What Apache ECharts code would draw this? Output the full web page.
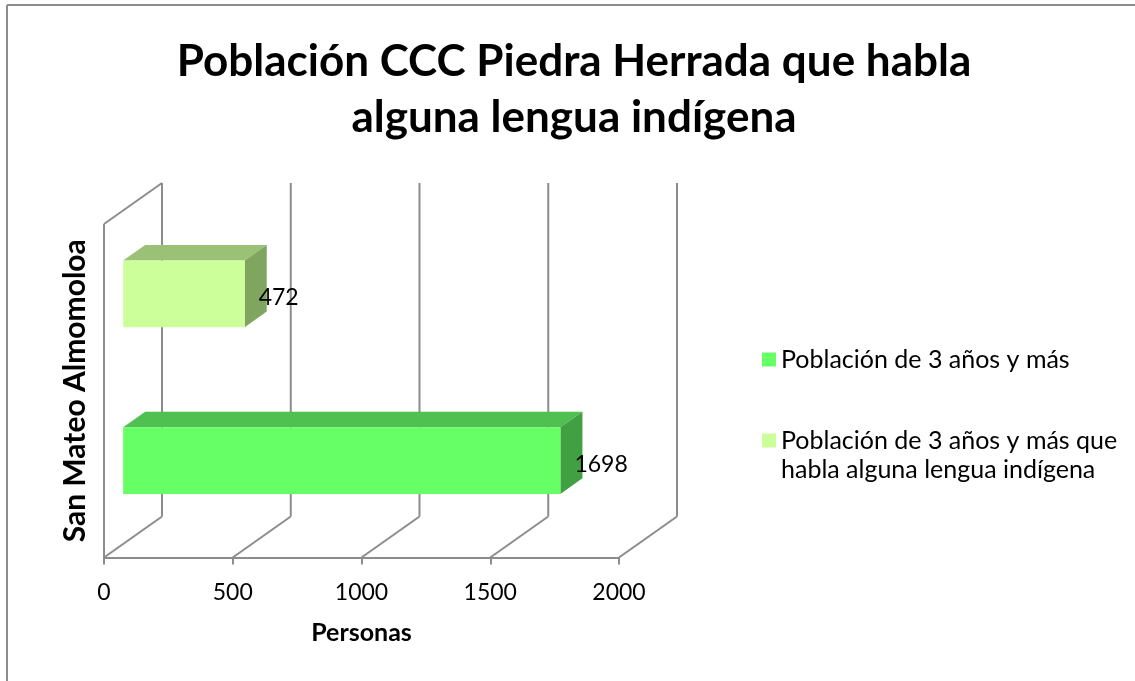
<!DOCTYPE html>
<html>
<head>
<meta charset="utf-8">
<script src="https://cdn.jsdelivr.net/npm/echarts@6/dist/echarts.min.js"></script>
<style>
html,body{margin:0;padding:0;background:#fff;}
#chart{width:1135px;height:681px;}
</style>
</head>
<body>
<div id="chart"></div>
<script>
// ---- data ----
var titleText = 'Población CCC Piedra Herrada que habla\nalguna lengua indígena';
var categories = ['San Mateo Almomoloa'];
var seriesNames = ['Población de 3 años y más', 'Población de 3 años y más que habla alguna lengua indígena'];
var valuesPop3 = [1698];
var valuesIndigena = [472];
var xTicks = [0, 500, 1000, 1500, 2000];
var xAxisName = 'Personas';

// ---- styling / geometry ----
var FONT = 'Lato';
var DX = 58, DY = -41;          // full depth offset of the 3D box
var F1 = 0.33, F2 = 0.71;       // bar front / back depth fraction
var GRID_COLOR = '#8c8c8c';
var palettes = [
  {front: '#66ff66', top: '#50c050', side: '#41a041'},
  {front: '#ccff99', top: '#9bc176', side: '#80a55e'}
];
var slots = [0.25, -0.25];      // offset of each series inside the band
var BAR_FRAC = 0.2;

function barRender(sIdx) {
  return function (params, api) {
    var val = api.value(0), cat = api.value(1);
    var p0 = api.coord([0, cat]);
    var p1 = api.coord([val, cat]);
    var band = api.size([0, 1])[1];
    var cy = p0[1] + slots[sIdx] * band;
    var h = band * BAR_FRAC;
    var top = cy - h / 2, bot = cy + h / 2;
    var xl = p0[0], xr = p1[0];
    var f1x = DX * F1, f1y = DY * F1, f2x = DX * F2, f2y = DY * F2;
    var pal = palettes[sIdx];
    return {
      type: 'group',
      children: [
        {type: 'polygon', shape: {points: [[xl + f1x, top + f1y], [xr + f1x, top + f1y], [xr + f2x, top + f2y], [xl + f2x, top + f2y]]}, style: {fill: pal.top}},
        {type: 'polygon', shape: {points: [[xr + f1x, top + f1y], [xr + f2x, top + f2y], [xr + f2x, bot + f2y], [xr + f1x, bot + f1y]]}, style: {fill: pal.side}},
        {type: 'rect', shape: {x: xl + f1x, y: top + f1y, width: xr - xl, height: h}, style: {fill: pal.front}},
        {type: 'text', x: xr + f1x + 14, y: cy + f1y + 4, style: {text: String(val), fill: '#000', font: '23px ' + FONT, verticalAlign: 'middle', align: 'left'}}
      ]
    };
  };
}

function wallRender(params, api) {
  var cs = params.coordSys;
  var v = api.value(0);
  var x = api.coord([v, 0])[0];
  var topY = cs.y, botY = cs.y + cs.height;
  var ls = {stroke: GRID_COLOR, lineWidth: 2};
  var ch = [
    {type: 'line', shape: {x1: x + DX, y1: topY + DY, x2: x + DX, y2: botY + DY}, style: ls},
    {type: 'line', shape: {x1: x, y1: botY, x2: x + DX, y2: botY + DY}, style: ls}
  ];
  if (params.dataIndex === 0) {
    ch.push({type: 'line', shape: {x1: x, y1: botY, x2: x, y2: topY}, style: ls});
    ch.push({type: 'line', shape: {x1: x, y1: topY, x2: x + DX, y2: topY + DY}, style: ls});
  }
  return {type: 'group', children: ch};
}

var chart = echarts.init(document.getElementById('chart'), null, {renderer: 'canvas'});
var option = {
  backgroundColor: '#fff',
  animation: false,
  title: {
    text: titleText,
    left: 574, top: 34, textAlign: 'center', padding: 0,
    textStyle: {fontFamily: FONT, fontWeight: 'bold', fontSize: 44, lineHeight: 56, color: '#000'}
  },
  legend: [
    {
      data: [seriesNames[0]], left: 762, top: 345, padding: 0, orient: 'vertical',
      icon: 'rect', itemWidth: 14, itemHeight: 14,
      textStyle: {fontFamily: FONT, fontSize: 25, lineHeight: 29, color: '#000'}
    },
    {
      data: [seriesNames[1]], left: 762, top: 397, padding: 0, orient: 'vertical',
      icon: 'rect', itemWidth: 14, itemHeight: 14,
      formatter: function (n) { return '\n' + n.replace(' que ', ' que\n'); },
      textStyle: {fontFamily: FONT, fontSize: 25, lineHeight: 29, color: '#000'}
    }
  ],
  grid: {left: 104, right: 516, top: 224, bottom: 123.5},
  xAxis: {
    type: 'value', min: 0, max: 2000, interval: 500,
    axisLine: {show: true, lineStyle: {color: GRID_COLOR, width: 2}},
    axisTick: {show: true, length: 7, lineStyle: {color: GRID_COLOR, width: 2}},
    splitLine: {show: false},
    axisLabel: {fontFamily: FONT, fontSize: 23, color: '#000', margin: 24, formatter: function (v) { return String(v); }},
    name: xAxisName, nameLocation: 'middle', nameGap: 63,
    nameTextStyle: {fontFamily: FONT, fontWeight: 'bold', fontSize: 25, color: '#000'}
  },
  yAxis: {
    type: 'category', data: categories,
    axisLine: {show: false}, axisTick: {show: false}, splitLine: {show: false},
    axisLabel: {rotate: 90, margin: 14, fontFamily: FONT, fontWeight: 'bold', fontSize: 30, color: '#000'}
  },
  graphic: [
    {type: 'line', shape: {x1: 7, y1: 5, x2: 1135, y2: 5}, style: {stroke: '#8c8c8c', lineWidth: 2}, silent: true},
    {type: 'line', shape: {x1: 7, y1: 5, x2: 7, y2: 681}, style: {stroke: '#8c8c8c', lineWidth: 2}, silent: true}
  ],
  series: [
    {
      name: '_walls', type: 'custom', z: 1, silent: true,
      data: xTicks.map(function (t) { return [t, 0]; }),
      encode: {x: 0, y: 1},
      renderItem: wallRender
    },
    {
      name: seriesNames[0], type: 'custom', z: 2,
      itemStyle: {color: palettes[0].front},
      data: valuesPop3.map(function (v, i) { return [v, i]; }),
      encode: {x: 0, y: 1},
      renderItem: barRender(0)
    },
    {
      name: seriesNames[1], type: 'custom', z: 3,
      itemStyle: {color: palettes[1].front},
      data: valuesIndigena.map(function (v, i) { return [v, i]; }),
      encode: {x: 0, y: 1},
      renderItem: barRender(1)
    }
  ]
};
chart.setOption(option);
</script>
</body>
</html>
